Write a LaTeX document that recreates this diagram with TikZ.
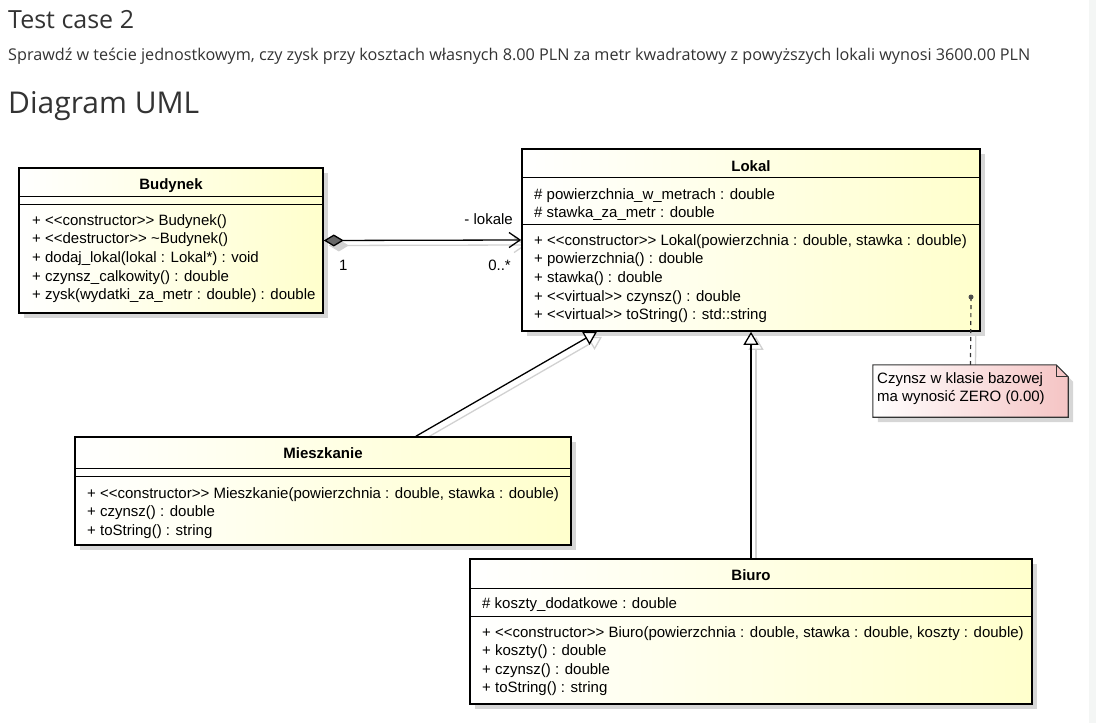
\documentclass[tikz,border=0pt]{standalone}
\usepackage{fontspec}
\setmainfont{Open Sans}
\newfontfamily\umlfont{Liberation Sans}[Ligatures=TeXOff]
\usetikzlibrary{arrows.meta,calc,shadows,backgrounds}
\definecolor{umlyellow}{HTML}{FFFFCC}
\definecolor{notepink}{HTML}{F5C4C4}
\definecolor{headgray}{HTML}{333333}
\definecolor{pagestripe}{HTML}{F4F6F5}

\begin{document}
\begin{tikzpicture}[
  x=1pt,y=-1pt,
  font=\umlfont\fontsize{15}{18.7}\selectfont,
  heading/.style={font=\rmfamily\fontsize{25}{30}\selectfont, text=headgray, inner sep=0pt, anchor=base west},
  subhead/.style={font=\rmfamily\fontsize{16.2}{20}\selectfont, text=headgray, inner sep=0pt, anchor=base west},
  bighead/.style={font=\rmfamily\fontsize{30}{36}\selectfont, text=headgray, inner sep=0pt, anchor=base west},
  classbox/.style={draw=black, line width=1.6pt, inner sep=0pt, left color=white, right color=umlyellow,
    drop shadow={shadow xshift=5pt, shadow yshift=-5pt, fill=black!16, opacity=1}},
  ctitle/.style={font=\umlfont\bfseries\fontsize{15}{18.7}\selectfont, anchor=base, inner sep=0pt},
  member/.style={anchor=base west, inner sep=0pt},
  sepline/.style={black, line width=1pt},
  wire/.style={black, line width=1.3pt},
  wireshadow/.style={draw=black!18, line width=1.3pt},
  notebox/.style={draw=black!80, line width=1.1pt, left color=white, right color=notepink},
  noteline/.style={black!80, line width=1.2pt, dash pattern=on 4pt off 4pt},
  assoclabel/.style={inner sep=0pt}
]
\useasboundingbox (0,0) rectangle (1096,723);

% ----------------------------- Page text -----------------------------
\node[heading] (head-test) at (8,28) {Test case 2};
\node[subhead] (head-task) at (8,60)
  {Sprawdź w teście jednostkowym, czy zysk przy kosztach własnych 8.00 PLN za metr kwadratowy z powyższych lokali wynosi 3600.00 PLN};
\node[bighead] (head-uml) at (8,113) {Diagram UML};

% ----------------------------- Classes -----------------------------
\node[classbox, minimum width=304pt, minimum height=145pt] (budynek) at (171,240.5) {};
\node[classbox, minimum width=458pt, minimum height=182pt] (lokal) at (751,240) {};
\node[classbox, minimum width=496pt, minimum height=108pt] (mieszkanie) at (323,491) {};
\node[classbox, minimum width=562pt, minimum height=145pt] (biuro) at (751,631.5) {};

% Budynek
\node[ctitle] (budynek-t) at (171,189) {Budynek};
\draw[sepline] ([yshift=-29pt]budynek.north west) -- ([yshift=-29pt]budynek.north east);
\draw[sepline] ([yshift=-37pt]budynek.north west) -- ([yshift=-37pt]budynek.north east);
\foreach \txt [count=\i from 0] in {
    {+ <<constructor>> Budynek()}, {+ <<destructor>> \textasciitilde Budynek()},
    {+ dodaj\_lokal(lokal : Lokal*) : void}, {+ czynsz\_calkowity() : double},
    {+ zysk(wydatki\_za\_metr : double) : double}}
  \node[member] (budynek-m\i) at ({32},{225+18.7*\i}) {\txt};

% Lokal
\node[ctitle] (lokal-t) at (751,171) {Lokal};
\draw[sepline] ([yshift=-29pt]lokal.north west) -- ([yshift=-29pt]lokal.north east);
\draw[sepline] ([yshift=-76pt]lokal.north west) -- ([yshift=-76pt]lokal.north east);
\foreach \txt [count=\i from 0] in {
    {\# powierzchnia\_w\_metrach : double}, {\# stawka\_za\_metr : double}}
  \node[member] (lokal-a\i) at ({534},{199+18.7*\i}) {\txt};
\foreach \txt [count=\i from 0] in {
    {+ <<constructor>> Lokal(powierzchnia : double, stawka : double)},
    {+ powierzchnia() : double}, {+ stawka() : double},
    {+ <<virtual>> czynsz() : double}, {+ <<virtual>> toString() : std::string}}
  \node[member] (lokal-m\i) at ({534},{245+18.7*\i}) {\txt};
\coordinate (lokal-pin) at (971,297);

% Mieszkanie
\node[ctitle] (mieszkanie-t) at (323,458) {Mieszkanie};
\draw[sepline] ([yshift=-32pt]mieszkanie.north west) -- ([yshift=-32pt]mieszkanie.north east);
\draw[sepline] ([yshift=-40pt]mieszkanie.north west) -- ([yshift=-40pt]mieszkanie.north east);
\foreach \txt [count=\i from 0] in {
    {+ <<constructor>> Mieszkanie(powierzchnia : double, stawka : double)},
    {+ czynsz() : double}, {+ toString() : string}}
  \node[member] (mieszkanie-m\i) at ({87},{498+18.7*\i}) {\txt};

% Biuro
\node[ctitle] (biuro-t) at (751,580) {Biuro};
\draw[sepline] ([yshift=-30pt]biuro.north west) -- ([yshift=-30pt]biuro.north east);
\draw[sepline] ([yshift=-58pt]biuro.north west) -- ([yshift=-58pt]biuro.north east);
\node[member] (biuro-a0) at (482,608) {\# koszty\_dodatkowe : double};
\foreach \txt [count=\i from 0] in {
    {+ <<constructor>> Biuro(powierzchnia : double, stawka : double, koszty : double)},
    {+ koszty() : double}, {+ czynsz() : double}, {+ toString() : string}}
  \node[member] (biuro-m\i) at ({482},{637+18.6*\i}) {\txt};

% ----------------------------- Note -----------------------------
\node[minimum width=195pt, minimum height=52pt, inner sep=0pt] (note) at (970.5,391) {};
\fill[black!16, transform canvas={shift={(5pt,-5pt)}}]
  (note.north west) -- ([xshift=-12pt]note.north east) -- ([yshift=-12pt]note.north east)
  -- (note.south east) -- (note.south west) -- cycle;
\draw[notebox]
  (note.north west) -- ([xshift=-12pt]note.north east) -- ([yshift=-12pt]note.north east)
  -- (note.south east) -- (note.south west) -- cycle;
\draw[black!80, line width=1.1pt]
  ([xshift=-12pt]note.north east) -- ([xshift=-12pt,yshift=-12pt]note.north east)
  -- ([yshift=-12pt]note.north east);
\node[member] (note-l0) at (877,383) {Czynsz w klasie bazowej};
\node[member] (note-l1) at (877,401) {ma wynosić ZERO (0.00)};

% ----------------------------- Connectors -----------------------------
\begin{scope}[on background layer]
  \fill[pagestripe] (1089,0) rectangle (1096,723);
  % light shadows of the connectors
  \draw[wireshadow, {Diamond[length=20pt,width=12pt]}-{Straight Barb[length=11pt,width=15pt]}]
    ([shift={(5pt,-5pt)}]budynek.east) -- ([shift={(5pt,-5pt)}]lokal.west);
  \draw[wireshadow, -{Triangle[open, length=13pt, width=15pt]}]
    ([shift={(98pt,-5pt)}]mieszkanie.north) -- ([shift={(-149pt,-5pt)}]lokal.south);
  \draw[wireshadow, -{Triangle[open, length=13pt, width=15pt]}]
    ([shift={(5pt,-5pt)}]biuro.north) -- ([shift={(5pt,-5pt)}]lokal.south);
  \draw[wireshadow] ([shift={(5pt,-5pt)}]lokal-pin) -- ([shift={(5pt,-5pt)}]note.north);
\end{scope}

% association Budynek -> Lokal
\draw[wire, {Diamond[length=20pt,width=12pt,fill=black!60]}-{Straight Barb[length=11pt,width=15pt]}]
  (budynek.east) -- (lokal.west);
\node[assoclabel, anchor=base east] (assoc-role) at (513,224) {- lokale};
\node[assoclabel, anchor=base west] (assoc-one) at (339,270) {1};
\node[assoclabel, anchor=base east] (assoc-many) at (511,270) {0..*};

% generalizations
\draw[wire, -{Triangle[open, length=13pt, width=15pt, fill=white]}]
  ([xshift=93pt]mieszkanie.north) -- ([xshift=-154pt]lokal.south);
\draw[wire, -{Triangle[open, length=13pt, width=15pt, fill=white]}]
  (biuro.north) -- (lokal.south);

% note anchor
\draw[noteline] (lokal-pin) -- (note.north);
\fill[black!70] (lokal-pin) circle[radius=2.5pt];

\end{tikzpicture}
\end{document}
